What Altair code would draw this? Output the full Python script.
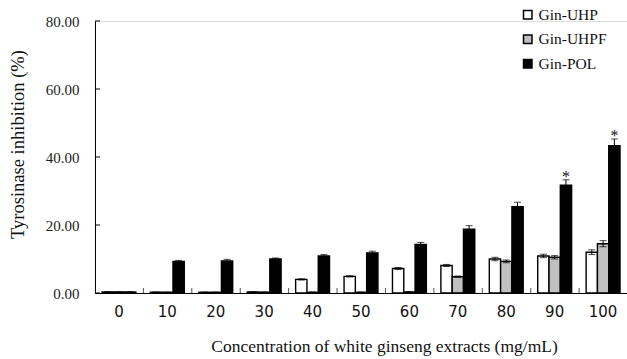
import altair as alt
import pandas as pd

# Concentrations (mg/mL) and series
conc = [0, 10, 20, 30, 40, 50, 60, 70, 80, 90, 100]
series_names = ["Gin-UHP", "Gin-UHPF", "Gin-POL"]
series_fill = ["#ffffff", "#c0c0c0", "#000000"]

# Tyrosinase inhibition (%) means
uhp = [0.3, 0.2, 0.2, 0.3, 4.0, 4.9, 7.2, 8.1, 10.0, 10.9, 12.0]
uhpf = [0.3, 0.2, 0.2, 0.2, 0.2, 0.2, 0.3, 4.8, 9.3, 10.5, 14.5]
pol = [0.3, 9.3, 9.4, 10.0, 10.9, 11.8, 14.3, 18.8, 25.4, 31.7, 43.3]

# Standard deviations
uhp_err = [0.1, 0.1, 0.1, 0.1, 0.2, 0.2, 0.3, 0.3, 0.5, 0.5, 0.7]
uhpf_err = [0.1, 0.1, 0.1, 0.1, 0.1, 0.1, 0.1, 0.2, 0.4, 0.5, 0.9]
pol_err = [0.1, 0.3, 0.5, 0.3, 0.4, 0.5, 0.6, 1.0, 1.3, 1.6, 2.0]

# Significance marks on Gin-POL
pol_star = ["", "", "", "", "", "", "", "", "", "*", "*"]

y_ticks = [0, 20, 40, 60, 80]

rows = []
for name, vals, errs in zip(series_names, [uhp, uhpf, pol], [uhp_err, uhpf_err, pol_err]):
    for i, c in enumerate(conc):
        rows.append({
            "conc": str(c),
            "series": name,
            "value": vals[i],
            "lo": vals[i] - errs[i],
            "hi": vals[i] + errs[i],
            "star": pol_star[i] if name == "Gin-POL" else "",
        })
df = pd.DataFrame(rows)
conc_labels = [str(c) for c in conc]

W, H = 532, 272
SERIF = "Liberation Serif"

x_enc = alt.X(
    "conc:N",
    sort=conc_labels,
    scale=alt.Scale(paddingInner=0.3, paddingOuter=0.144),
    axis=alt.Axis(
        title="Concentration of white ginseng extracts (mg/mL)",
        labelAngle=0,
        ticks=False,
        domainColor="#000000",
        labelFont="DejaVu Sans",
        labelFontSize=15,
        labelColor="#111111",
        labelPadding=11,
        titleFont=SERIF,
        titleFontSize=17.5,
        titleFontWeight="normal",
        titleColor="#111111",
        titleX=289,
        titleY=53,
        titleBaseline="middle",
    ),
)
xoff = alt.XOffset("series:N", sort=series_names)
y_scale = alt.Scale(domain=[0, 80], nice=False)

base = alt.Chart(df)

bars = base.mark_bar(stroke="#000000", strokeWidth=1.4).encode(
    x=x_enc,
    xOffset=xoff,
    y=alt.Y(
        "value:Q",
        scale=y_scale,
        axis=alt.Axis(
            title="Tyrosinase inhibition (%)",
            values=y_ticks,
            format=".2f",
            ticks=False,
            grid=False,
            domainColor="#000000",
            labelFont=SERIF,
            labelFontSize=15,
            labelColor="#222222",
            labelPadding=16,
            titleFont=SERIF,
            titleFontSize=18.5,
            titleFontWeight="normal",
            titleColor="#111111",
            titleX=-78,
            titleY=123,
            titleBaseline="middle",
        ),
    ),
    fill=alt.Fill(
        "series:N",
        sort=series_names,
        scale=alt.Scale(domain=series_names, range=series_fill),
        legend=alt.Legend(
            title=None,
            orient="none",
            legendX=425,
            legendY=-14,
            symbolType="square",
            symbolSize=72,
            symbolStrokeColor="#000000",
            symbolStrokeWidth=1.5,
            labelFont=SERIF,
            labelFontSize=15.5,
            labelColor="#111111",
            labelOffset=3,
            rowPadding=7.5,
            padding=0,
        ),
    ),
)

err_line = base.mark_rule(color="#000000", strokeWidth=1).encode(
    x=alt.X("conc:N", sort=conc_labels),
    xOffset=xoff,
    y=alt.Y("lo:Q", scale=y_scale),
    y2="hi:Q",
)
cap_hi = base.mark_tick(color="#000000", orient="horizontal", size=7, thickness=1).encode(
    x=alt.X("conc:N", sort=conc_labels),
    xOffset=xoff,
    y=alt.Y("hi:Q", scale=y_scale),
)
cap_lo = base.mark_tick(color="#000000", orient="horizontal", size=7, thickness=1).encode(
    x=alt.X("conc:N", sort=conc_labels),
    xOffset=xoff,
    y=alt.Y("lo:Q", scale=y_scale),
)

stars = base.transform_filter(alt.datum.star != "").mark_text(
    font=SERIF, fontSize=16, fill="#111111", baseline="alphabetic", dy=2
).encode(
    x=alt.X("conc:N", sort=conc_labels),
    xOffset=xoff,
    y=alt.Y("hi:Q", scale=y_scale),
    text="star:N",
)

# small upward ticks between concentration groups (half a gap before each group)
sep_df = pd.DataFrame({"conc": conc_labels[1:]})
separators = alt.Chart(sep_df).mark_rule(color="#555555", strokeWidth=1, xOffset=-7).encode(
    x=alt.X("conc:N", sort=conc_labels, bandPosition=0),
    y=alt.value(H),
    y2=alt.value(H - 5),
)

# inward y-axis ticks
ytick_df = pd.DataFrame({"v": y_ticks})
yticks = alt.Chart(ytick_df).mark_rule(color="#000000", strokeWidth=1).encode(
    y=alt.Y("v:Q", scale=y_scale),
    x=alt.value(0),
    x2=alt.value(5),
)

chart = (
    alt.layer(bars, err_line, cap_hi, cap_lo, stars, separators, yticks)
    .properties(
        width=W,
        height=H,
        autosize=alt.AutoSizeParams(type="none"),
        padding={"left": 95, "top": 21, "right": 0, "bottom": 66},
    )
    .configure_view(stroke=None)
    .configure(background="#ffffff")
)

chart.save("out.html", embed_options={"renderer": "svg", "actions": False})
